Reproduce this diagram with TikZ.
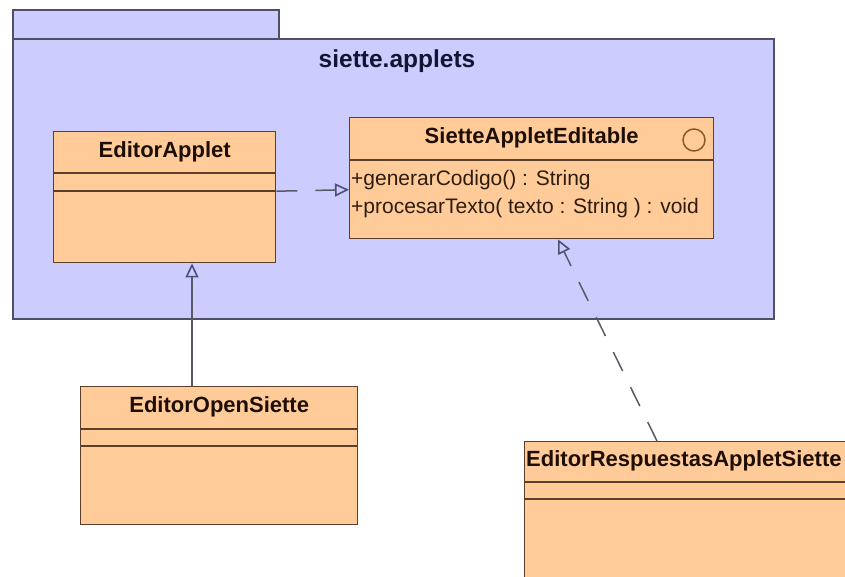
\documentclass[tikz,border=0pt]{standalone}
\usepackage{fontspec}
\setmainfont{Liberation Sans}
\usetikzlibrary{arrows.meta}

\definecolor{pkgfill}{HTML}{CCCCFF}
\definecolor{pkgline}{HTML}{4F4F66}
\definecolor{pkgtext}{HTML}{141433}
\definecolor{clsfill}{HTML}{FFCC99}
\definecolor{clsline}{HTML}{5C3F2A}
\definecolor{clstext}{HTML}{1E0E05}
\definecolor{memtext}{HTML}{2E1C10}
\definecolor{linkline}{HTML}{5A5A66}
\definecolor{linktip}{HTML}{4A5275}
\definecolor{iconline}{HTML}{8A5A2A}

\tikzset{
  pkg/.style={draw=pkgline, fill=pkgfill, line width=1.6pt},
  pkgtitle/.style={font=\fontsize{24.5}{27}\selectfont\bfseries, text=pkgtext, inner sep=0pt},
  classbox/.style={draw=clsline, fill=clsfill, line width=1.4pt, rectangle,
    inner sep=0pt, anchor=north west},
  classname/.style={font=\fontsize{22}{25}\selectfont\bfseries, text=clstext, inner sep=0pt},
  member/.style={font=\fontsize{21}{24}\selectfont, text=memtext, inner sep=0pt, anchor=west},
  divider/.style={draw=clsline, line width=1.4pt},
  opentip/.style={-{Triangle[open, length=14pt, width=13pt, line width=1.6pt, color=linktip]}},
  depend/.style={draw=linkline, line width=1.5pt, dash pattern=on 21pt off 18pt, opentip},
  inherit/.style={draw=linkline, line width=1.5pt, opentip},
}

\begin{document}
\begin{tikzpicture}[x=1pt, y=-1pt]
  \useasboundingbox (0,0) rectangle (845,577);
  \clip (0,0) rectangle (845,577);

  % package siette.applets: tab and body
  \draw[pkg] (13,10) rectangle (279,39);
  \draw[pkg] (13,39) rectangle (774,319);
  \node[pkgtitle] (pkgname) at (397,61) {siette.applets};

  % class EditorApplet
  \node[classbox, minimum width=222pt, minimum height=131pt] (ea) at (53,131) {};
  \node[classname] (eaname) at ([yshift=-21pt]ea.north) {EditorApplet};
  \draw[divider] ([yshift=-42pt]ea.north west) -- ([yshift=-42pt]ea.north east);
  \draw[divider] ([yshift=-60pt]ea.north west) -- ([yshift=-60pt]ea.north east);

  % interface SietteAppletEditable
  \node[classbox, minimum width=364pt, minimum height=121pt] (sae) at (349,117) {};
  \node[classname] (saename) at ([yshift=-21pt]sae.north) {SietteAppletEditable};
  \draw[divider] ([yshift=-43pt]sae.north west) -- ([yshift=-43pt]sae.north east);
  \node[draw=iconline, line width=1.5pt, circle, minimum size=22pt, inner sep=0pt] (saeicon)
    at (694,140) {};
  \node[member] (m1) at (351,180) {+generarCodigo() : String};
  \node[member] (m2) at (351,208) {+procesarTexto( texto : String ) : void};

  % class EditorOpenSiette
  \node[classbox, minimum width=277pt, minimum height=138pt] (eos) at (80,386) {};
  \node[classname] (eosname) at ([yshift=-21pt]eos.north) {EditorOpenSiette};
  \draw[divider] ([yshift=-43pt]eos.north west) -- ([yshift=-43pt]eos.north east);
  \draw[divider] ([yshift=-60pt]eos.north west) -- ([yshift=-60pt]eos.north east);

  % class EditorRespuestasAppletSiette (runs past the right and bottom edges)
  \node[classbox, minimum width=400pt, minimum height=200pt] (eras) at (524,441) {};
  \node[classname, anchor=west] (erasname) at (526,461) {EditorRespuestasAppletSiette};
  \draw[divider] ([yshift=-41pt]eras.north west) -- ([yshift=-41pt]eras.north east);
  \draw[divider] ([yshift=-58pt]eras.north west) -- ([yshift=-58pt]eras.north east);

  % dependency EditorApplet -> SietteAppletEditable
  \draw[depend] ([yshift=6pt]ea.east) -- ([yshift=-11.5pt]sae.west);

  % generalization EditorOpenSiette -> EditorApplet
  \coordinate (gx) at (192,0);
  \draw[inherit] (eos.north -| gx) -- (ea.south -| gx);

  % realization EditorRespuestasAppletSiette -> SietteAppletEditable
  \draw[depend] ([xshift=133pt]eras.north west) -- ([xshift=209pt]sae.south west);
\end{tikzpicture}
\end{document}
